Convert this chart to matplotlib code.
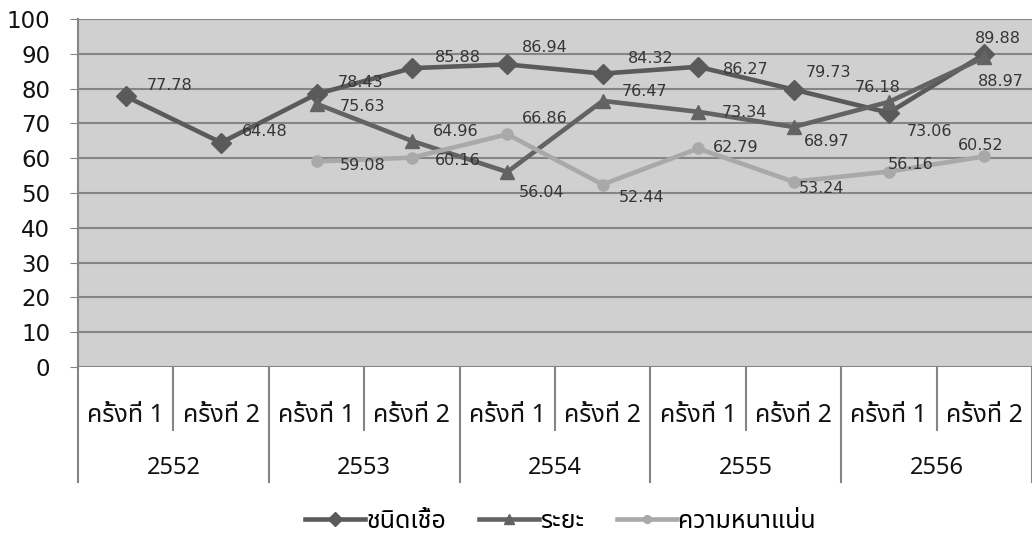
import numpy as np
import matplotlib.pyplot as plt
from matplotlib import font_manager
from matplotlib.ft2font import FT2Font
from matplotlib.transforms import blended_transform_factory


def find_thai_font():
    found = []
    for f in font_manager.fontManager.ttflist:
        try:
            if 0x0E0A in FT2Font(f.fname).get_charmap():
                found.append(f.name)
        except Exception:
            pass
    for pref in ['Tahoma', 'Noto Sans Thai', 'Noto Sans Thai UI', 'Loma', 'Garuda', 'Sarabun']:
        if pref in found:
            return pref
    return found[0] if found else 'DejaVu Sans'


thai = find_thai_font()
plt.rcParams['font.family'] = ['DejaVu Sans', thai]
thai_fam = [thai, 'DejaVu Sans']

# data
rounds = ['ครั้งที่ 1', 'ครั้งที่ 2'] * 5
years = ['2552', '2553', '2554', '2555', '2556']
series_names = ['ชนิดเชื้อ', 'ระยะ', 'ความหนาแน่น']
chanid = [77.78, 64.48, 78.43, 85.88, 86.94, 84.32, 86.27, 79.73, 73.06, 89.88]
raya = [np.nan, np.nan, 75.63, 64.96, 56.04, 76.47, 73.34, 68.97, 76.18, 88.97]
density = [np.nan, np.nan, 59.08, 60.16, 66.86, 52.44, 62.79, 53.24, 56.16, 60.52]

# label offsets in pixels (dx, dy down)
off_chanid = [(21, -11), (21, -11), (21, -12), (23, -11), (15, -17), (25, -15),
              (25, 3), (12, -17), (18, 19), (-9, -16)]
off_raya = [None, None, (23, 3), (21, -9), (11, 21), (19, -9), (24, 1), (10, 15),
            (-34, -14), (-6, 24)]
off_density = [None, None, (23, 4), (23, 3), (15, -16), (16, 13), (15, -1), (5, 7),
               (-1, -7), (-26, -11)]

fig = plt.figure(figsize=(10.32, 5.37), dpi=100)
ax = fig.add_axes([78 / 1032, 1 - 367 / 537, 954 / 1032, 348 / 537])
ax.set_facecolor('#d0d0d0')

x = np.arange(len(rounds))
styles = [
    (chanid, 'D', '#5a5a5a', 10, off_chanid),
    (raya, '^', '#636363', 9.5, off_raya),
    (density, 'o', '#a9a9a9', 8, off_density),
]
handles = []
for (vals, mk, col, ms, offs), name in zip(styles, series_names):
    h, = ax.plot(x, vals, color=col, lw=3.3, marker=mk, ms=ms, label=name, zorder=3)
    handles.append(h)
    for xi, v, o in zip(x, vals, offs):
        if np.isnan(v) or o is None:
            continue
        ax.annotate(f'{v:.2f}', (xi, v), xytext=(o[0], -o[1]), textcoords='offset pixels',
                    ha='left', va='center', fontsize=11.5, color='#353535', zorder=4)

ax.set_xlim(-0.5, len(rounds) - 0.5)
ax.set_ylim(0, 100)
ax.set_yticks(range(0, 101, 10))
ax.yaxis.grid(True, color='#858585', lw=1.5)
ax.set_axisbelow(True)
ax.tick_params(axis='y', length=6, color='#858585', labelsize=16.5, pad=14,
               labelcolor='#111111')
ax.set_xticks([])
for s in ['top', 'right', 'bottom']:
    ax.spines[s].set_visible(False)
ax.spines['left'].set_color('#858585')
ax.spines['left'].set_linewidth(1.5)

# multi-level category axis
trans = blended_transform_factory(ax.transData, ax.transAxes)
for i in range(len(rounds) + 1):
    bottom = -0.33 if i % 2 == 0 else -0.181
    ax.plot([i - 0.5, i - 0.5], [0, bottom], transform=trans, color='#858585',
            lw=1.5, clip_on=False)
for xi, lab in zip(x, rounds):
    ax.text(xi, -0.138, lab, transform=trans, ha='center', va='center',
            fontsize=18, color='#111111', family=thai_fam)
for j, yr in enumerate(years):
    ax.text(2 * j + 0.5, -0.29, yr, transform=trans, ha='center', va='center',
            fontsize=17, color='#111111', family=thai_fam)

fig.legend(handles=handles, loc='center', bbox_to_anchor=(0.543, 1 - 521 / 537),
           ncol=3, frameon=False, prop={'family': thai_fam, 'size': 18},
           handlelength=2.4, handletextpad=0.05, columnspacing=1.3, markerscale=0.7)

fig.savefig('out.png', dpi=100)
